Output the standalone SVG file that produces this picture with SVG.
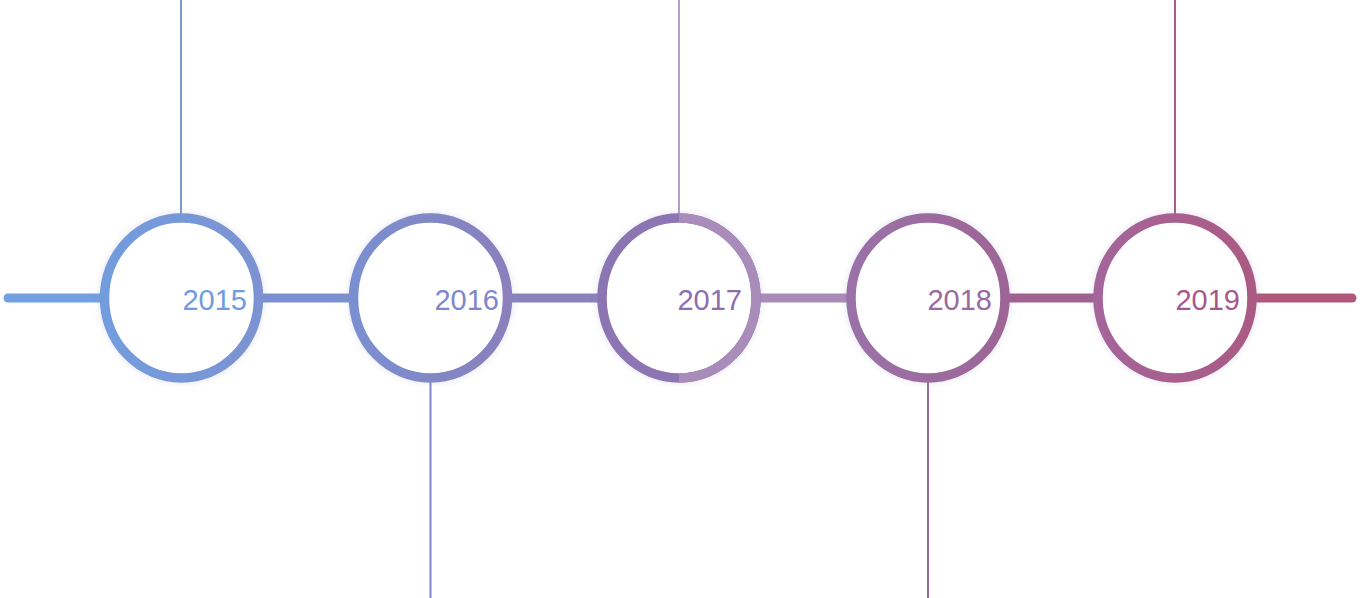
<svg xmlns="http://www.w3.org/2000/svg" width="1364" height="598" viewBox="0 0 1364 598">
<defs>
<filter id="glow" x="-30%" y="-30%" width="160%" height="160%">
<feGaussianBlur in="SourceAlpha" stdDeviation="3" result="b"/>
<feFlood flood-color="#8a80c0" flood-opacity="0.25"/>
<feComposite operator="in" in2="b" result="sh"/>
<feMerge><feMergeNode in="sh"/><feMergeNode in="SourceGraphic"/></feMerge>
</filter>
<linearGradient id="g1" x1="0" y1="0" x2="1" y2="0"><stop offset="0" stop-color="#729ddd"/><stop offset="1" stop-color="#7c92d2"/></linearGradient>
<linearGradient id="g2" x1="0" y1="0" x2="1" y2="0"><stop offset="0" stop-color="#7a8fd0"/><stop offset="1" stop-color="#8a80bc"/></linearGradient>
<linearGradient id="g4" x1="0" y1="0" x2="1" y2="0"><stop offset="0" stop-color="#9a72a8"/><stop offset="1" stop-color="#9d6595"/></linearGradient>
<linearGradient id="g5" x1="0" y1="0" x2="1" y2="0"><stop offset="0" stop-color="#a4659a"/><stop offset="1" stop-color="#ab5a84"/></linearGradient>
</defs>
<style>
.seg{stroke-width:9;stroke-linecap:round;fill:none}
.vl{stroke-width:2;fill:none}
.ring{fill:#fff;stroke-width:9.5;filter:url(#glow)}
.arc{fill:none;stroke-width:9.5}
.yr{font-family:"Liberation Sans",Arial,sans-serif;font-size:29px;text-anchor:end}
</style>
<g id="connectors">
<line class="seg" x1="8" y1="298" x2="104" y2="298" stroke="#72a0e0"/>
<line class="seg" x1="258" y1="298" x2="353" y2="298" stroke="#7b91cf"/>
<line class="seg" x1="507" y1="298" x2="602" y2="298" stroke="#8a82bc"/>
<line class="seg" x1="755" y1="298" x2="851" y2="298" stroke="#a98bb8"/>
<line class="seg" x1="1004" y1="298" x2="1099" y2="298" stroke="#a0618f"/>
<line class="seg" x1="1252" y1="298" x2="1352" y2="298" stroke="#b0577c"/>
<line class="vl" x1="181" y1="0" x2="181" y2="214" stroke="#7c96d8"/>
<line class="vl" x1="430.5" y1="382" x2="430.5" y2="598" stroke="#7f85c4"/>
<line class="vl" x1="679" y1="0" x2="679" y2="214" stroke="#b59dc6"/>
<line class="vl" x1="928" y1="382" x2="928" y2="598" stroke="#9a6a9e"/>
<line class="vl" x1="1175" y1="0" x2="1175" y2="214" stroke="#a85d86"/>
</g>
<g id="node-2015">
<ellipse class="ring" cx="181.5" cy="298" rx="77" ry="80" stroke="url(#g1)"/>
<text class="yr" x="247" y="310" fill="#6f9ce0">2015</text>
</g>
<g id="node-2016">
<ellipse class="ring" cx="430.5" cy="298" rx="77" ry="80" stroke="url(#g2)"/>
<text class="yr" x="499" y="310" fill="#7d88cc">2016</text>
</g>
<g id="node-2017">
<ellipse class="ring" cx="679" cy="298" rx="77" ry="80" stroke="#8b74b2"/>
<path class="arc" d="M679 218 A77 80 0 0 1 679 378" stroke="#a98cb9"/>
<text class="yr" x="742" y="310" fill="#8a70b0">2017</text>
</g>
<g id="node-2018">
<ellipse class="ring" cx="928" cy="298" rx="77" ry="80" stroke="url(#g4)"/>
<text class="yr" x="992" y="310" fill="#9a6aa0">2018</text>
</g>
<g id="node-2019">
<ellipse class="ring" cx="1175" cy="298" rx="77" ry="80" stroke="url(#g5)"/>
<text class="yr" x="1240" y="310" fill="#a8588a">2019</text>
</g>
</svg>
